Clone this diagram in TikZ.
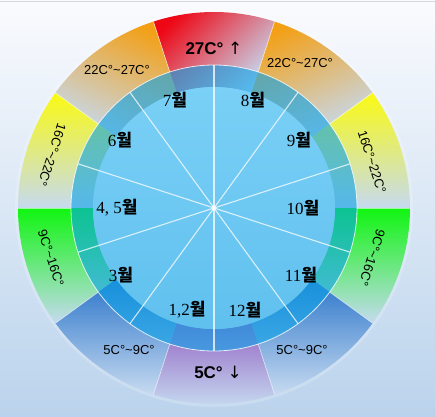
\documentclass[tikz,border=0pt]{standalone}
\usepackage{fontspec}
\setmainfont{Liberation Serif}
\newfontfamily\krfont{Noto Sans CJK KR}
\newfontfamily\tempfont{Liberation Sans}
\newfontfamily\arrowfont{DejaVu Sans}
\newcommand{\wavedash}{{\char`\~}}
\definecolor{bgtop}{RGB}{250,251,254}
\definecolor{bgbottom}{RGB}{186,211,236}
\definecolor{framegray}{RGB}{214,214,214}
\definecolor{fadeblue}{RGB}{198,218,240}
\definecolor{hotred}{RGB}{238,8,22}
\definecolor{warmorange}{RGB}{243,160,22}
\definecolor{mildyellow}{RGB}{250,250,18}
\definecolor{coolgreen}{RGB}{16,245,16}
\definecolor{coldblue}{RGB}{45,118,202}
\definecolor{frostpurple}{RGB}{148,102,196}
\definecolor{ringblue}{RGB}{10,162,232}
\definecolor{disktop}{RGB}{122,208,246}
\definecolor{diskbottom}{RGB}{96,192,238}

\begin{document}
\begin{tikzpicture}[
  x=1pt,
  y=1pt,
  spoke/.style={draw=white, draw opacity=0.75, line width=1.1pt},
  segment edge/.style={draw=white, draw opacity=0.6, line width=0.7pt},
  month label/.style={
    font=\fontsize{17}{17}\selectfont,
    inner sep=0pt
  },
  band label/.style={
    font=\tempfont\fontsize{13}{13}\selectfont,
    inner sep=0pt
  },
  extreme label/.style={
    font=\tempfont\bfseries\fontsize{17}{17}\selectfont,
    inner sep=0pt
  }
]
  \useasboundingbox (-214,-208) rectangle (221,208);
  \shade[top color=bgtop, bottom color=bgbottom] (-214,-208) rectangle (221,208);
  \draw[framegray, line width=1pt] (-214,206.5) -- (221,206.5);
  \coordinate (hub) at (0,0);
  \fill[white, opacity=0.2] (hub) circle[radius=199];
  \foreach \startAngle/\endAngle/\segColor/\tilt in {
      72/108/hotred/45, 108/144/warmorange/-25, 36/72/warmorange/25,
      144/180/mildyellow/0, 0/36/mildyellow/0,
      180/216/coolgreen/0, -36/0/coolgreen/0,
      216/252/coldblue/0, 288/324/coldblue/0, 252/288/frostpurple/0} {
    \shade[top color=\segColor, bottom color=fadeblue, shading angle=\tilt]
      (\startAngle:121) arc[start angle=\startAngle, end angle=\endAngle, radius=121]
      -- (\endAngle:196) arc[start angle=\endAngle, end angle=\startAngle, radius=196]
      -- cycle;
  }
  \foreach \edgeAngle in {0,36,...,324}
    \draw[segment edge] (\edgeAngle:143) -- (\edgeAngle:196);
  \fill[ringblue, opacity=0.6] (hub) circle[radius=143];
  \draw[white, opacity=0.8, line width=0.8pt] (hub) circle[radius=143];
  \shade[top color=disktop, bottom color=diskbottom] (hub) circle[radius=121];
  \foreach \spokeAngle in {18,54,...,342}
    \draw[spoke] (hub) -- (\spokeAngle:143);
  \fill[white, opacity=0.6] (hub) circle[radius=2.5];

  \foreach \monthName/\px/\py/\monthNum in {
      july/-39/108/7, august/39/108/8, june/-94/68/6, september/85/68/9,
      aprmay/-97/0/{4, 5}, october/89/0/10, march/-93/-67/3,
      november/87/-67/11, janfeb/-27/-102/{1,2}, december/31/-102/12} {
    \node[month label] (\monthName) at (\px,\py) {\monthNum{\krfont\bfseries 월}};
  }

  \node[extreme label] (hot) at (0,160) {27C° {\arrowfont\mdseries ↑}};
  \node[extreme label] (cold) at (4,-164) {5C° {\arrowfont\mdseries ↓}};
  \node[band label] (warm west) at (-97,138) {22C°\wavedash27C°};
  \node[band label] (warm east) at (86,145) {22C°\wavedash27C°};
  \node[band label, rotate=-108] (mild west) at (-162,53) {16C°\wavedash22C°};
  \node[band label, rotate=-72] (mild east) at (158,46) {16C°\wavedash22C°};
  \node[band label, rotate=-72] (cool west) at (-163,-50) {9C°\wavedash16C°};
  \node[band label, rotate=-108] (cool east) at (158,-50) {9C°\wavedash16C°};
  \node[band label] (chill west) at (-85,-142) {5C°\wavedash9C°};
  \node[band label] (chill east) at (88,-142) {5C°\wavedash9C°};
\end{tikzpicture}
\end{document}
